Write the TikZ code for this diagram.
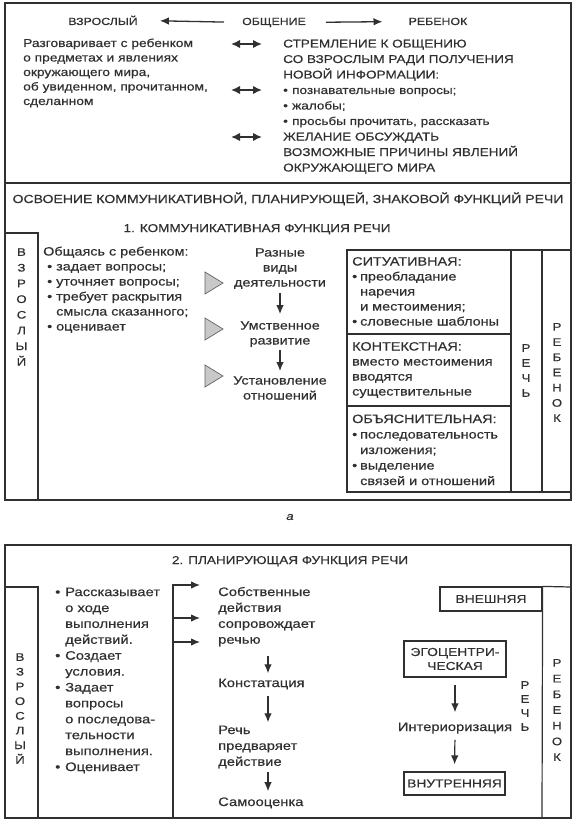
\documentclass[tikz,border=0pt]{standalone}
\usepackage{fontspec}
\setmainfont{Liberation Sans}[FakeStretch=1.2, FakeBold=0.5]
\usetikzlibrary{arrows.meta}

\definecolor{ink}{RGB}{48,48,48}
\definecolor{shade}{RGB}{200,200,200}

\newcommand{\dotmark}[1][9pt]{\makebox[#1][l]{•}}
\newcommand{\dotgap}[1][9pt]{\hspace*{#1}}

\begin{document}
\begin{tikzpicture}[x=1pt, y=-1pt, >={Latex[length=9pt,width=7.5pt]},
    every node/.style={inner sep=0pt, text=ink},
    toptitle/.style={font=\fontsize{10.3}{12}\selectfont},
    body/.style={font=\fontsize{11.5}{14.5}\selectfont, align=left},
    mid/.style={font=\fontsize{12}{15}\selectfont, align=left},
    big/.style={font=\fontsize{12.3}{15.9}\selectfont, align=left},
    caption/.style={font=\fontsize{11.3}{14}\selectfont},
    vert/.style={font=\fontsize{11}{15.7}\selectfont, align=center},
    frame/.style={draw=ink, line width=1.2pt},
    boxed/.style={draw=ink, line width=1.2pt, font=\fontsize{11.5}{14}\selectfont},
    wedge/.style={fill=shade, draw=ink!75, line width=0.7pt},
    dn/.style={->, draw=ink, line width=1.2pt},
    both/.style={{Latex[length=9pt,width=8.5pt]}-{Latex[length=9pt,width=8.5pt]}, draw=ink, line width=1.7pt}]
    \useasboundingbox (0,0) rectangle (573,824);

    % --- Общение ---
    \draw[frame] (5,3) rectangle (571,500);
    \node[toptitle, anchor=base] (adult) at (103,25) {ВЗРОСЛЫЙ};
    \node[toptitle, anchor=base] (talk) at (274,25) {ОБЩЕНИЕ};
    \node[toptitle, anchor=base] (child) at (438,25) {РЕБЕНОК};
    \draw[->, draw=ink, line width=1.3pt, shorten <=18pt, shorten >=22pt] (talk.west) -- (adult.east);
    \draw[->, draw=ink, line width=1.3pt, shorten <=20pt, shorten >=26pt] (talk.east) -- (child.west);

    % (base = последняя строка)
    \node[body, anchor=base west] (speaks) at (23,105) {Разговаривает с ребенком\\о предметах и явлениях\\окружающего мира,\\об увиденном, прочитанном,\\сделанном};
    \node[body, font=\fontsize{11.3}{15.5}\selectfont, anchor=base west] (wants) at (283,171.5) {СТРЕМЛЕНИЕ К ОБЩЕНИЮ\\СО ВЗРОСЛЫМ РАДИ ПОЛУЧЕНИЯ\\НОВОЙ ИНФОРМАЦИИ:\\\dotmark познавательные вопросы;\\\dotmark жалобы;\\\dotmark просьбы прочитать, рассказать\\ЖЕЛАНИЕ ОБСУЖДАТЬ\\ВОЗМОЖНЫЕ ПРИЧИНЫ ЯВЛЕНИЙ\\ОКРУЖАЮЩЕГО МИРА};

    % двойные стрелки
    \coordinate (l1) at (231,44);  \coordinate (r1) at (262,44);
    \coordinate (l2) at (231,90);  \coordinate (r2) at (262,90);
    \coordinate (l3) at (231,137); \coordinate (r3) at (262,137);
    \draw[both] (l1) -- (r1);
    \draw[both] (l2) -- (r2);
    \draw[both] (l3) -- (r3);

    % --- 1. Коммуникативная функция ---
    \draw[frame] (5,183) -- (571,183);
    \node[caption, font=\fontsize{11.7}{14}\selectfont, anchor=base] (mastery) at (288,203) {ОСВОЕНИЕ КОММУНИКАТИВНОЙ, ПЛАНИРУЮЩЕЙ, ЗНАКОВОЙ ФУНКЦИЙ РЕЧИ};
    \node[caption, anchor=base] (comm) at (257,232) {1. КОММУНИКАТИВНАЯ ФУНКЦИЯ РЕЧИ};

    \draw[frame] (5,233) -| (38,500);
    \node[vert] (adultA) at (21.5,307) {В\\З\\Р\\О\\С\\Л\\Ы\\Й};
    \node[mid, anchor=base west] (asks) at (43,330.5) {Общаясь с ребенком:\\\hspace*{4pt}\dotmark задает вопросы;\\\hspace*{4pt}\dotmark уточняет вопросы;\\\hspace*{4pt}\dotmark требует раскрытия\\\dotgap[13pt]смысла сказанного;\\\hspace*{4pt}\dotmark оценивает};

    \draw[wedge] (205,272) -- (223,283) -- (205,294) -- cycle;
    \draw[wedge] (205,318) -- (223,329) -- (205,340) -- cycle;
    \draw[wedge] (205,365) -- (223,376) -- (205,387) -- cycle;

    \node[mid, align=center, anchor=base] (kinds) at (280,286.5) {Разные\\виды\\деятельности};
    \node[mid, align=center, anchor=base] (mind) at (280,344.5) {Умственное\\развитие};
    \node[mid, align=center, anchor=base] (ties) at (280,399.5) {Установление\\отношений};
    \draw[dn, shorten <=4pt, shorten >=7pt] (kinds.south) -- (mind.north);
    \draw[dn, shorten <=3pt, shorten >=5pt] (mind.south) -- (ties.north);

    % виды речи
    \draw[frame] (347,250) rectangle (571,492);
    \draw[frame] (347,334) -- (511,334);
    \draw[frame] (347,406) -- (511,406);
    \draw[frame] (511,250) -- (511,492);
    \draw[frame] (542,250) -- (542,492);
    \node[mid, anchor=base west] (situ) at (352,325.5) {СИТУАТИВНАЯ:\\\dotmark[8pt]преобладание\\\dotgap[8pt]наречия\\\dotgap[8pt]и местоимения;\\\dotmark[8pt]словесные шаблоны};
    \node[mid, anchor=base west] (cont) at (352,395.5) {КОНТЕКСТНАЯ:\\вместо местоимения\\вводятся\\существительные};
    \node[mid, font=\fontsize{12}{15.5}\selectfont, anchor=base west] (expl) at (352,485) {ОБЪЯСНИТЕЛЬНАЯ:\\\dotmark[8pt]последовательность\\\dotgap[8pt]изложения;\\\dotmark[8pt]выделение\\\dotgap[8pt]связей и отношений};
    \node[vert, font=\fontsize{11}{15}\selectfont] (speechA) at (526,370.5) {Р\\Е\\Ч\\Ь};
    \node[vert, font=\fontsize{11}{15.2}\selectfont] (childA) at (557,372.5) {Р\\Е\\Б\\Е\\Н\\О\\К};

    \node[font=\itshape\fontsize{11}{13}\selectfont] (tag) at (290,517) {а};

    % --- 2. Планирующая функция ---
    \draw[frame] (5,545) rectangle (571,818);
    \node[caption, anchor=base] (plan) at (290,564) {2. ПЛАНИРУЮЩАЯ ФУНКЦИЯ РЕЧИ};
    \draw[frame] (5,587) -| (38,818);
    \node[vert, font=\fontsize{11}{14.7}\selectfont] (adultB) at (20,708.5) {В\\З\\Р\\О\\С\\Л\\Ы\\Й};
    \node[big, anchor=base west] (acts) at (55,771) {\dotmark[10pt]Рассказывает\\\dotgap[10pt]о ходе\\\dotgap[10pt]выполнения\\\dotgap[10pt]действий.\\\dotmark[10pt]Создает\\\dotgap[10pt]условия.\\\dotmark[10pt]Задает\\\dotgap[10pt]вопросы\\\dotgap[10pt]о последова-\\\dotgap[10pt]тельности\\\dotgap[10pt]выполнения.\\\dotmark[10pt]Оценивает};

    \node[big, anchor=base west] (own) at (218,643.7) {Собственные\\действия\\сопровождает\\речью};
    \node[big, anchor=base west] (stat) at (218,687) {Констатация};
    \node[big, anchor=base west] (ahead) at (218,765.8) {Речь\\предваряет\\действие};
    \node[big, anchor=base west] (self) at (218,806) {Самооценка};

    \coordinate (foot) at (173,818);
    \coordinate (fork) at (173,585);
    \coordinate (br1) at (173,618);
    \coordinate (br2) at (173,642);
    \draw[dn, shorten >=18pt] (foot) -- (fork) -- (fork -| own.west);
    \draw[dn, shorten >=18pt] (br1) -- (br1 -| own.west);
    \draw[dn, shorten >=18pt] (br2) -- (br2 -| own.west);

    \draw[dn, shorten <=10pt, shorten >=5pt] ([xshift=50pt]own.south west) -- ([xshift=50pt]stat.north west);
    \draw[dn, shorten <=6pt, shorten >=3pt] ([xshift=50pt]stat.south west) -- ([xshift=50pt]ahead.north west);
    \draw[dn, shorten <=3.5pt, shorten >=6pt] ([xshift=50pt]ahead.south west) -- ([xshift=50pt]self.north west);

    \node[boxed, minimum width=102pt, minimum height=24pt] (outer) at (491,599) {ВНЕШНЯЯ};
    \draw[frame] (outer.north east) -- (571,587);
    \draw[frame] (outer.north east) -- (542,818);
    \node[boxed, minimum width=102pt, minimum height=36pt, align=center] (ego) at (455,659) {ЭГОЦЕНТРИ-\\ЧЕСКАЯ};
    \node[big, anchor=base] (inter) at (455,731) {Интериоризация};
    \node[boxed, minimum width=101pt, minimum height=23pt] (inner) at (454.5,783.5) {ВНУТРЕННЯЯ};
    \draw[dn, shorten <=7pt, shorten >=10pt] (ego.south) -- (inter.north);
    \draw[dn, shorten <=6pt, shorten >=7pt] (inter.south) -- (inner.north);

    \node[vert, font=\fontsize{11}{14}\selectfont] (speechB) at (525,706) {Р\\Е\\Ч\\Ь};
    \node[vert] (childB) at (557,710) {Р\\Е\\Б\\Е\\Н\\О\\К};
\end{tikzpicture}
\end{document}
